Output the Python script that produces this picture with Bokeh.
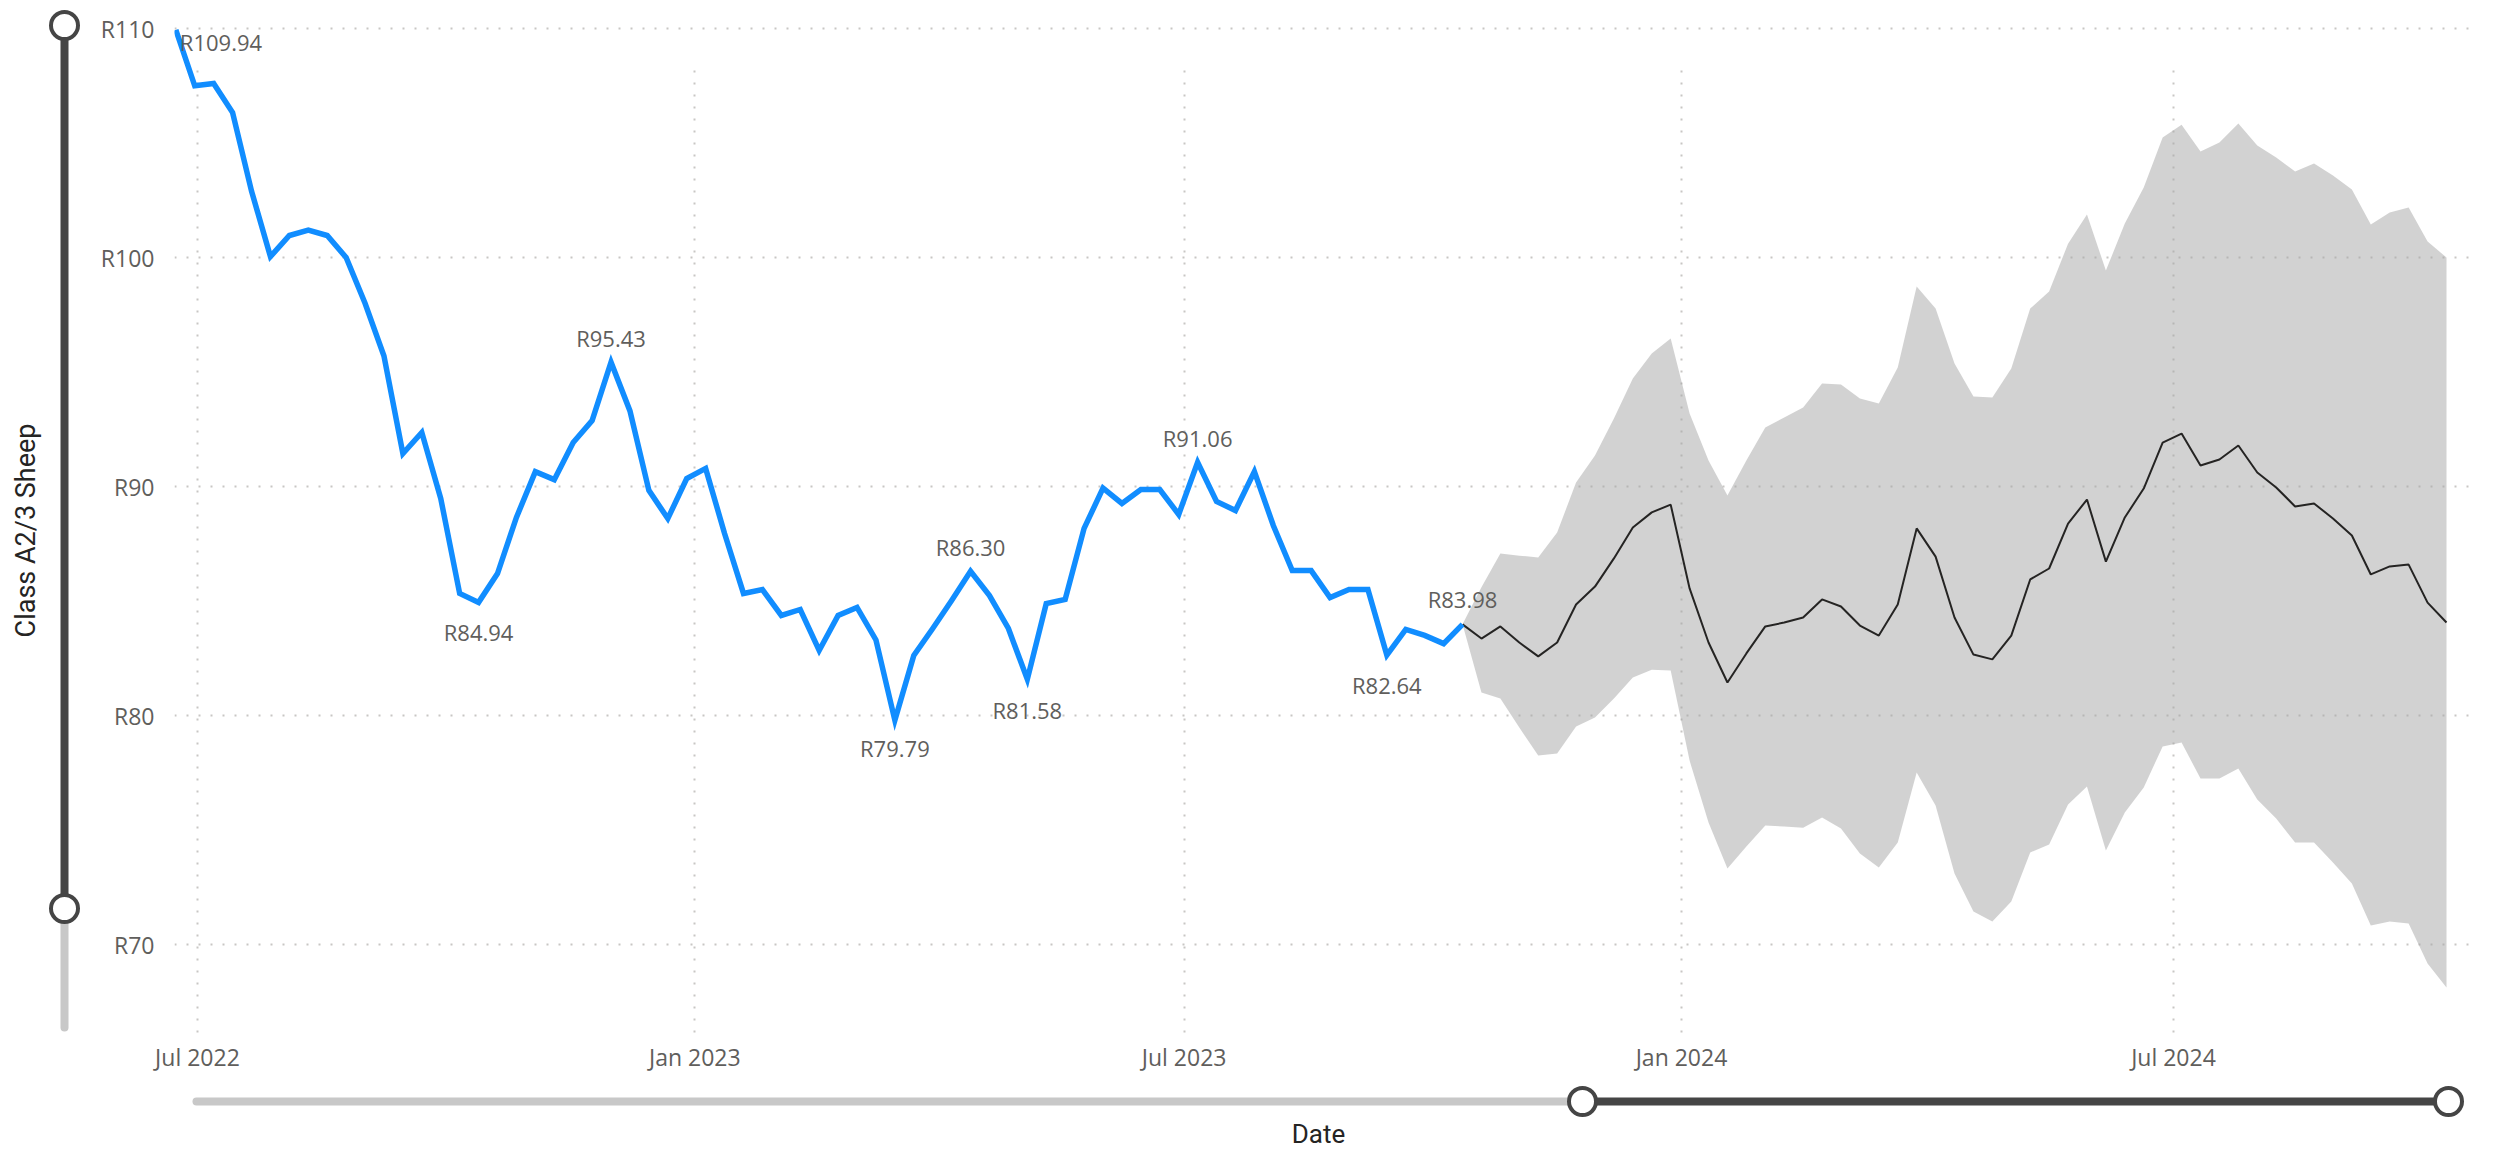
import numpy as np
import pandas as pd
from datetime import datetime
from bokeh.plotting import figure
from bokeh.layouts import row, column
from bokeh.models import (Range1d, FixedTicker, PrintfTickFormatter, DatetimeTickFormatter,
                          ColumnDataSource)
from bokeh.embed import file_html
from bokeh.resources import INLINE
from bokeh.core.properties import value

# ---------------- data ----------------
week_dates = pd.date_range("2022-06-23", periods=121, freq="7D")

actual_price = [109.94, 107.50, 107.60, 106.33, 102.90, 100.04, 100.96, 101.20, 100.96, 100.00,
                98.00, 95.70, 91.44, 92.36, 89.48, 85.33, 84.94, 86.20, 88.65, 90.65,
                90.30, 91.92, 92.88, 95.43, 93.30, 89.83, 88.60, 90.35, 90.79, 87.95,
                85.33, 85.50, 84.37, 84.63, 82.84, 84.37, 84.72, 83.30, 79.79, 82.62,
                83.80, 85.02, 86.30, 85.24, 83.80, 81.58, 84.89, 85.07, 88.17, 89.93,
                89.26, 89.87, 89.87, 88.78, 91.06, 89.35, 88.95, 90.65, 88.30, 86.33,
                86.33, 85.15, 85.50, 85.50, 82.64, 83.76, 83.50, 83.14, 83.98]

forecast_price = [83.98, 83.36, 83.89, 83.19, 82.58, 83.19, 84.85, 85.63, 86.86, 88.21,
                  88.87, 89.21, 85.55, 83.19, 81.44, 82.71, 83.89, 84.06, 84.28, 85.07,
                  84.76, 83.93, 83.49, 84.85, 88.17, 86.94, 84.28, 82.66, 82.45, 83.49,
                  85.94, 86.42, 88.38, 89.43, 86.72, 88.65, 89.91, 91.92, 92.31, 90.92,
                  91.18, 91.79, 90.61, 89.96, 89.13, 89.26, 88.60, 87.86, 86.16, 86.51,
                  86.59, 84.93, 84.06]

forecast_upper = [83.98, 85.60, 87.07, 86.98, 86.90, 87.99, 90.17, 91.35, 92.97, 94.72,
                  95.81, 96.46, 93.19, 91.14, 89.61, 91.14, 92.58, 93.01, 93.45, 94.50,
                  94.45, 93.84, 93.62, 95.20, 98.73, 97.77, 95.37, 93.93, 93.89, 95.15,
                  97.77, 98.52, 100.60, 101.88, 99.43, 101.48, 103.06, 105.24, 105.80, 104.63,
                  105.02, 105.85, 104.89, 104.37, 103.76, 104.10, 103.58, 102.97, 101.44, 101.97,
                  102.18, 100.70, 100.00]

forecast_lower = [83.98, 81.00, 80.74, 79.48, 78.25, 78.34, 79.52, 79.91, 80.74, 81.66,
                  82.00, 81.97, 78.03, 75.33, 73.32, 74.28, 75.20, 75.15, 75.10, 75.55,
                  75.07, 73.97, 73.36, 74.45, 77.51, 76.07, 73.10, 71.44, 71.00, 71.88,
                  74.02, 74.37, 76.11, 76.90, 74.10, 75.76, 76.86, 78.65, 78.82, 77.25,
                  77.25, 77.69, 76.33, 75.50, 74.45, 74.45, 73.58, 72.66, 70.83, 71.00,
                  70.92, 69.17, 68.12]

labelled_weeks = [0, 16, 23, 38, 42, 45, 54, 64, 68]

y_tick_values = [70, 80, 90, 100, 110]
x_tick_dates = ["2022-07-01", "2023-01-01", "2023-07-01", "2024-01-01", "2024-07-01"]

y_title = "Class A2/3 Sheep"
x_title = "Date"

# ---------------- styling / layout constants (page pixels) ----------------
TOTAL_W, TOTAL_H = 2496, 1152
LEFT_W = 88                 # left strip: y title + vertical zoom slider
MAIN_H = 1080
BOTTOM_H = TOTAL_H - MAIN_H # bottom strip: horizontal zoom slider + x title
MAIN_W = TOTAL_W - LEFT_W
FRAME_L, FRAME_R, FRAME_T, FRAME_B = 174, 2474, 20, 1034

BLUE = "#118DFF"
DARK = "#454545"
LIGHT = "#C8C8C8"
TXT = "#605E5C"
TITLE_C = "#252423"
FONT = "Open Sans"
TFONT = "Roboto"

n_act = len(actual_price)
act_src = ColumnDataSource(dict(x=week_dates[:n_act], y=actual_price))
fc_dates = week_dates[n_act - 1:n_act - 1 + len(forecast_price)]
fc_src = ColumnDataSource(dict(x=fc_dates, y=forecast_price, lo=forecast_lower, hi=forecast_upper))

lab_style = {0: (4, 12, "left"), 16: (0, 30, "center"), 23: (0, -24, "center"),
             38: (0, 28, "center"), 42: (0, -24, "center"), 45: (0, 31, "center"),
             54: (0, -24, "center"), 64: (0, 30, "center"), 68: (0, -25, "center")}
lab_src = ColumnDataSource(dict(
    x=[week_dates[i] for i in labelled_weeks],
    y=[actual_price[i] for i in labelled_weeks],
    t=["R%.2f" % actual_price[i] for i in labelled_weeks],
    xo=[lab_style[i][0] for i in labelled_weeks],
    yo=[lab_style[i][1] for i in labelled_weeks],
    al=[lab_style[i][2] for i in labelled_weeks],
))

# ---------------- main chart ----------------
p = figure(width=MAIN_W, height=MAIN_H, x_axis_type="datetime",
           x_range=Range1d(datetime(2022, 6, 22, 12, 15), datetime(2024, 10, 20, 8, 40)),
           y_range=Range1d(66.07, 110.35),
           output_backend="svg", toolbar_location=None,
           min_border_left=FRAME_L - LEFT_W, min_border_right=TOTAL_W - FRAME_R,
           min_border_top=FRAME_T, min_border_bottom=MAIN_H - FRAME_B)
p.outline_line_color = None
p.background_fill_color = "white"
p.border_fill_color = "white"

for g in (p.xgrid, p.ygrid):
    g.grid_line_color = "#C8C6C4"
    g.grid_line_dash = "2 10"
    g.grid_line_width = 2
p.xgrid.cross_bounds = (66.16, 108.6)

p.yaxis.ticker = FixedTicker(ticks=y_tick_values)
p.yaxis.formatter = PrintfTickFormatter(format="R%d")
tick_ms = [pd.Timestamp(d).value // 10**6 for d in x_tick_dates]
p.xaxis.ticker = FixedTicker(ticks=tick_ms)
p.xaxis.formatter = DatetimeTickFormatter(days="%b %Y", months="%b %Y", years="%b %Y")
for ax in (p.xaxis, p.yaxis):
    ax.axis_line_color = None
    ax.major_tick_line_color = None
    ax.minor_tick_line_color = None
    ax.major_label_text_font = FONT
    ax.major_label_text_font_size = "23px"
    ax.major_label_text_color = TXT
p.yaxis.major_label_standoff = 14
p.xaxis.major_label_standoff = 0

p.varea(x="x", y1="lo", y2="hi", source=fc_src, fill_color="#A6A6A6", fill_alpha=0.5)
p.line(x="x", y="y", source=fc_src, line_color="#252423", line_width=2)
p.line(x="x", y="y", source=act_src, line_color=BLUE, line_width=5.5, line_join="miter")
p.text(x="x", y="y", text="t", source=lab_src, x_offset="xo", y_offset="yo",
       text_align="al", text_baseline="middle", text_font=value(FONT),
       text_font_size="22px", text_color=TXT)

# ---------------- decoration strips (data units = page pixels, y downward) ----------------
def strip(w, h, xr, yr):
    f = figure(width=w, height=h, x_range=Range1d(*xr), y_range=Range1d(*yr),
               x_axis_location=None, y_axis_location=None,
               output_backend="svg", toolbar_location=None,
               min_border=0, min_border_left=0, min_border_right=0,
               min_border_top=0, min_border_bottom=0)
    f.grid.visible = False
    f.outline_line_color = None
    f.background_fill_color = "white"
    f.border_fill_color = "white"
    return f

# left strip: y title + vertical zoom slider
pl = strip(LEFT_W, TOTAL_H, (0, LEFT_W), (TOTAL_H, 0))
pl.text(x=[25], y=[530], text=[y_title], angle=np.pi / 2, text_align="center",
        text_baseline="middle", text_font=value(TFONT), text_font_size="27px",
        text_color=TITLE_C)
pl.segment(x0=[64], y0=[908], x1=[64], y1=[1027], line_width=8, line_color=LIGHT, line_cap="round")
pl.segment(x0=[64], y0=[25], x1=[64], y1=[908], line_width=8, line_color=DARK, line_cap="round")
pl.scatter(x=[64, 64], y=[25, 908], marker="circle", size=27, fill_color="white",
           line_color=DARK, line_width=4)

# bottom strip (its frame aligns with the main frame horizontally)
pb = strip(MAIN_W, BOTTOM_H, (FRAME_L, FRAME_R), (TOTAL_H, MAIN_H))
sy = 1101
pb.segment(x0=[196], y0=[sy], x1=[1582], y1=[sy], line_width=8, line_color=LIGHT, line_cap="round")
pb.segment(x0=[1582], y0=[sy], x1=[2448], y1=[sy], line_width=8, line_color=DARK, line_cap="round")
pb.scatter(x=[1582, 2448], y=[sy, sy], marker="circle", size=27, fill_color="white",
           line_color=DARK, line_width=4)
pb.text(x=[1318], y=[1133], text=[x_title], text_align="center", text_baseline="middle",
        text_font=value(TFONT), text_font_size="26px", text_color=TITLE_C)

layout = row(pl, column(p, pb, spacing=0), spacing=0)
open("out.html", "w").write(file_html(layout, INLINE))
